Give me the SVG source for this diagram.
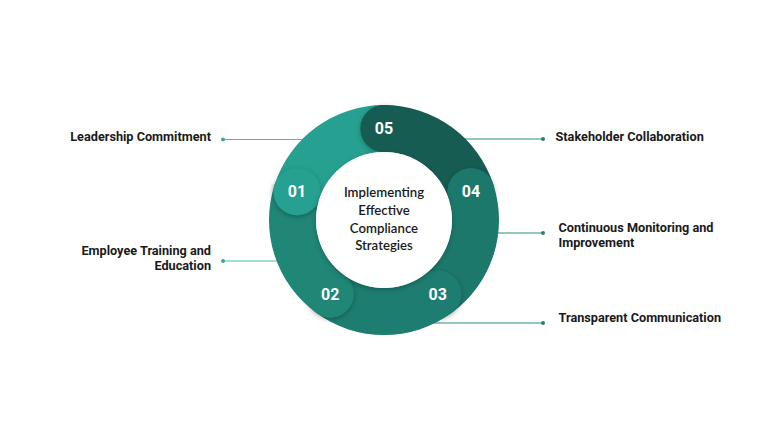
<svg xmlns="http://www.w3.org/2000/svg" width="768" height="432" viewBox="0 0 768 432">
  <defs>
    <style>
      .lbl { font-family: Roboto, "Liberation Sans", sans-serif; font-weight: 700; font-size: 12.7px; fill: #1a1a1a; }
      .num { font-family: Roboto, "Liberation Sans", sans-serif; font-weight: 700; font-size: 16px; fill: #ffffff; text-anchor: middle; }
      .ctr { font-family: Lato, "Liberation Sans", sans-serif; font-weight: 600; font-size: 13.2px; fill: #1a1a1a; text-anchor: middle; }
      .lnL { stroke: #4bb8a8; stroke-width: 1.2; fill: none; }
      .lnR { stroke: #2e8c7f; stroke-width: 1.2; fill: none; }
      .dotL { fill: #3aa897; }
      .dotR { fill: #2a8074; }
    </style>
    <filter id="sh" x="-50%" y="-50%" width="200%" height="200%">
      <feDropShadow dx="0" dy="1.5" stdDeviation="2.5" flood-color="#000" flood-opacity="0.3"/>
    </filter>
    <filter id="shc" x="-30%" y="-30%" width="160%" height="160%">
      <feDropShadow dx="0" dy="2" stdDeviation="2.5" flood-color="#000" flood-opacity="0.25"/>
    </filter>
    <clipPath id="wedge02">
      <polygon points="384,220 255,374 190,276 194,158"/>
    </clipPath>
  </defs>
  <rect width="768" height="432" fill="#ffffff"/>

  <g id="connectors">
    <line class="lnL" x1="223" y1="139.5" x2="330" y2="139.5"/>
    <circle class="dotL" cx="223" cy="139.5" r="2"/>
    <line class="lnL" x1="223" y1="261" x2="310" y2="261"/>
    <circle class="dotL" cx="223" cy="261" r="2"/>
    <line class="lnR" x1="440" y1="139" x2="543" y2="139"/>
    <circle class="dotR" cx="543" cy="139" r="2"/>
    <line class="lnR" x1="470" y1="233" x2="543" y2="233"/>
    <circle class="dotR" cx="543" cy="233" r="2"/>
    <line class="lnR" x1="420" y1="323" x2="543" y2="323"/>
    <circle class="dotR" cx="543" cy="323" r="2"/>
  </g>

  <g id="step01">
    <path d="M274.63,184.46 A115,115 0 0 1 384,105 L384,152 A68,68 0 0 0 319.33,198.99 Z" fill="#26a090"/>
    <circle cx="297" cy="191.7" r="23.5" fill="#26a090" filter="url(#sh)"/>
  </g>

  <g id="step05">
    <circle cx="384" cy="128.5" r="23.5" fill="#165c52" filter="url(#sh)"/>
    <path d="M384,105 A115,115 0 0 1 493.37,184.46 L448.67,198.99 A68,68 0 0 0 384,152 Z" fill="#165c52"/>
    <circle cx="384" cy="128.5" r="23.5" fill="#165c52"/>
    <text class="num" x="384" y="134.2">05</text>
  </g>

  <g id="step04">
    <circle cx="471" cy="191.7" r="23.5" fill="#1c786b" filter="url(#sh)"/>
    <path d="M493.37,184.46 A115,115 0 0 1 451.60,313.04 L423.97,275.01 A68,68 0 0 0 448.67,198.99 Z" fill="#1c786b"/>
    <circle cx="471" cy="191.7" r="23.5" fill="#1c786b"/>
    <text class="num" x="471" y="197.4">04</text>
  </g>

  <g id="step03">
    <circle cx="437.8" cy="294" r="23.5" fill="#1d7d70" filter="url(#sh)"/>
    <path d="M451.60,313.04 A115,115 0 0 1 316.40,313.04 L344.03,275.01 A68,68 0 0 0 423.97,275.01 Z" fill="#1d7d70"/>
    <circle cx="437.8" cy="294" r="23.5" fill="#1d7d70"/>
    <text class="num" x="437.8" y="299.7">03</text>
  </g>

  <g id="step02">
    <circle cx="330.2" cy="294" r="23.5" fill="#208676" filter="url(#sh)"/>
    <path d="M316.40,313.04 A115,115 0 0 1 274.63,184.46 L319.33,198.99 A68,68 0 0 0 344.03,275.01 Z" fill="#208676"/>
    <circle cx="330.2" cy="294" r="23.5" fill="#208676"/>
    <text class="num" x="330.2" y="299.7">02</text>
  </g>

  <g id="step01-badge">
    <g clip-path="url(#wedge02)">
      <circle cx="297" cy="191.7" r="23.5" fill="#26a090" filter="url(#sh)"/>
    </g>
    <text class="num" x="297" y="197.4">01</text>
  </g>

  <g id="center">
    <circle cx="384" cy="220" r="68" fill="#ffffff" filter="url(#shc)"/>
    <text class="ctr" x="384" y="197">Implementing</text>
    <text class="ctr" x="384" y="214.5">Effective</text>
    <text class="ctr" x="384" y="232.5">Compliance</text>
    <text class="ctr" x="384" y="250">Strategies</text>
  </g>

  <g id="label01"><text class="lbl" x="211" y="141" text-anchor="end">Leadership Commitment</text></g>
  <g id="label02"><text class="lbl" x="211" y="254.5" text-anchor="end">Employee Training and</text><text class="lbl" x="211" y="270" text-anchor="end">Education</text></g>
  <g id="label05"><text class="lbl" x="555.5" y="141">Stakeholder Collaboration</text></g>
  <g id="label04"><text class="lbl" x="558.5" y="231.5">Continuous Monitoring and</text><text class="lbl" x="558.5" y="246.5">Improvement</text></g>
  <g id="label03"><text class="lbl" x="558.5" y="322">Transparent Communication</text></g>
</svg>
